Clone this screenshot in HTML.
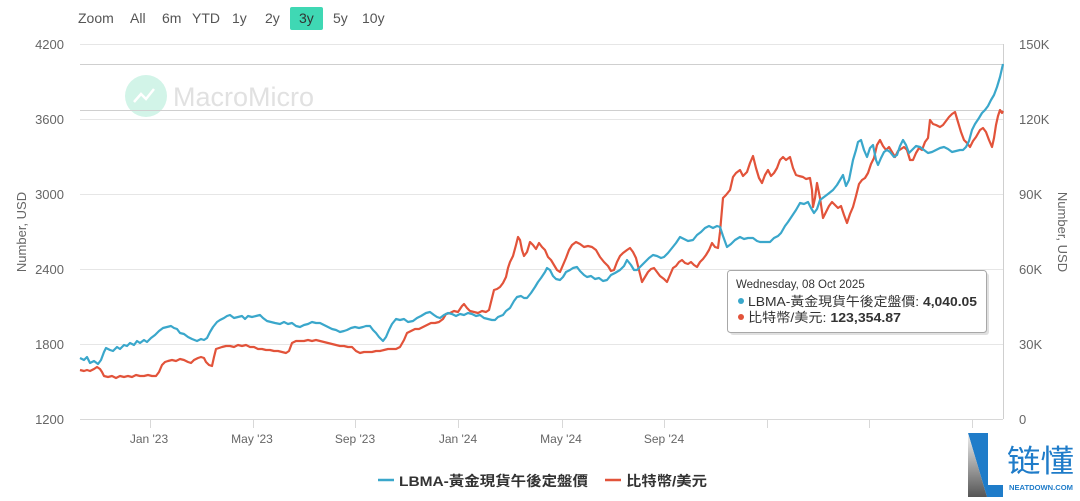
<!DOCTYPE html>
<html><head><meta charset="utf-8"><style>
html,body{margin:0;padding:0;background:#fff;}
svg{display:block;font-family:"Liberation Sans","Noto Sans CJK TC",sans-serif;}
</style></head><body>
<svg width="1080" height="501" viewBox="0 0 1080 501" xmlns="http://www.w3.org/2000/svg">
<rect width="1080" height="501" fill="#fff"/>
<!-- zoom bar -->
<g font-size="14" fill="#555">
<text x="78" y="23">Zoom</text>
<text x="130" y="23">All</text>
<text x="162" y="23">6m</text>
<text x="192" y="23">YTD</text>
<text x="232" y="23">1y</text>
<text x="265" y="23">2y</text>
<rect x="290" y="7" width="33" height="23" rx="2" fill="#3fd8b4"/>
<text x="299" y="23" fill="#333">3y</text>
<text x="333" y="23">5y</text>
<text x="362" y="23">10y</text>
</g>
<!-- watermark -->
<circle cx="146" cy="96" r="21" fill="#d2f4e8"/>
<polyline points="134,102 141,94 146,99 154,89" fill="none" stroke="#fff" stroke-width="2.5"/>
<text x="173" y="106" font-size="27" fill="#e1e1e1">MacroMicro</text>
<!-- grid -->
<g stroke="#e6e6e6" stroke-width="1">
<line x1="80" y1="44.5" x2="1003" y2="44.5"/>
<line x1="80" y1="119.5" x2="1003" y2="119.5"/>
<line x1="80" y1="194.5" x2="1003" y2="194.5"/>
<line x1="80" y1="269.5" x2="1003" y2="269.5"/>
<line x1="80" y1="344.5" x2="1003" y2="344.5"/>
</g>
<line x1="80" y1="419.5" x2="1003" y2="419.5" stroke="#d8d8d8"/>
<!-- crosshairs -->
<g stroke="#cfcfcf" stroke-width="1">
<line x1="80" y1="64.5" x2="1003" y2="64.5"/>
<line x1="80" y1="110.5" x2="1003" y2="110.5"/>
<line x1="1003.5" y1="44" x2="1003.5" y2="419"/>
</g>
<!-- x ticks -->
<g stroke="#d8d8d8">
<line x1="150.5" y1="419" x2="150.5" y2="428"/>
<line x1="253.5" y1="419" x2="253.5" y2="428"/>
<line x1="355.5" y1="419" x2="355.5" y2="428"/>
<line x1="458.5" y1="419" x2="458.5" y2="428"/>
<line x1="562.5" y1="419" x2="562.5" y2="428"/>
<line x1="664.5" y1="419" x2="664.5" y2="428"/>
<line x1="767.5" y1="419" x2="767.5" y2="428"/>
<line x1="869.5" y1="419" x2="869.5" y2="428"/>
<line x1="972.5" y1="419" x2="972.5" y2="428"/>
</g>
<g font-size="12" fill="#666" text-anchor="middle">
<text x="149" y="443">Jan '23</text>
<text x="252" y="443">May '23</text>
<text x="355" y="443">Sep '23</text>
<text x="458" y="443">Jan '24</text>
<text x="561" y="443">May '24</text>
<text x="664" y="443">Sep '24</text>
</g>
<!-- left axis -->
<g font-size="13" fill="#666" text-anchor="end">
<text x="64" y="49">4200</text>
<text x="64" y="124">3600</text>
<text x="64" y="199">3000</text>
<text x="64" y="274">2400</text>
<text x="64" y="349">1800</text>
<text x="64" y="424">1200</text>
</g>
<text transform="translate(26,232) rotate(-90)" font-size="13" fill="#666" text-anchor="middle">Number, USD</text>
<!-- right axis -->
<g font-size="13" fill="#666">
<text x="1019" y="49">150K</text>
<text x="1019" y="124">120K</text>
<text x="1019" y="199">90K</text>
<text x="1019" y="274">60K</text>
<text x="1019" y="349">30K</text>
<text x="1019" y="424">0</text>
</g>
<text transform="translate(1058,232) rotate(90)" font-size="13" fill="#666" text-anchor="middle">Number, USD</text>
<!-- series: BTC -->
<polyline fill="none" stroke="#e2533a" stroke-width="2.2" stroke-linejoin="round" points="80,370 84,371 87,370 90,371 94,369 97,367 100,369 102,372 104,376 108,377 112,376 116,378 120,376 124,377 128,376 132,377 136,375 140,376 144,376 148,375 152,376 156,376 159,372 162,365 165,362 168,361 172,360 176,361 180,359 184,360 188,362 191,363 194,360 198,358 201,357 204,358 206,362 209,365 212,366 214,357 216,349 219,348 222,347 226,346 230,346 234,347 238,345 242,346 246,345 250,347 254,347 258,349 262,349 266,350 270,350 274,351 278,351 282,352 286,353 289,351 292,343 296,341 300,341 304,341 308,340 312,341 316,340 320,341 324,342 328,343 332,344 336,345 340,346 344,346 348,347 352,347 356,351 360,353 364,352 368,352 372,352 376,351 380,351 384,350 388,349 392,349 396,349 400,347 404,340 407,333 411,331 415,329 419,329 423,327 427,325 431,323 435,323 439,322 443,319 446,314 450,313 454,311 458,312 462,306 464,304 467,308 470,311 474,312 478,313 482,311 486,312 489,310 491,302 494,290 497,289 500,287 503,283 506,277 508,268 510,262 513,256 516,245 518,237 520,240 522,250 524,256 527,252 530,242 533,245 536,249 539,243 542,247 545,250 548,257 551,260 554,265 557,270 560,272 563,265 566,258 569,250 572,245 576,242 580,244 584,247 588,246 592,247 596,250 600,257 604,262 608,266 611,271 614,270 617,262 620,256 623,253 627,250 630,248 633,252 636,258 639,270 642,282 645,277 648,272 651,269 654,268 657,272 660,276 664,279 667,282 670,275 673,268 676,266 679,262 682,260 685,263 688,264 691,262 694,265 697,267 700,262 703,259 706,255 709,250 712,243 715,247 718,248 720,232 723,198 726,195 730,190 733,177 736,173 740,170 743,176 747,172 750,163 753,156 756,168 759,178 762,183 765,175 768,170 771,176 774,173 777,168 780,160 783,157 786,160 790,157 793,168 796,175 799,176 803,177 806,179 810,178 812,190 813,207 815,198 817,183 820,198 823,218 826,212 829,206 832,202 835,205 838,208 841,206 844,215 847,223 850,214 853,207 856,196 859,184 862,180 865,178 868,173 871,164 874,158 877,145 880,140 883,146 886,150 889,147 892,152 895,157 898,151 901,149 904,147 907,150 910,160 913,160 916,153 919,148 922,150 925,142 928,138 930,120 933,124 936,125 940,127 943,125 946,121 949,117 952,114 955,112 958,122 961,132 964,140 967,143 970,147 973,141 976,137 980,130 983,128 986,132 989,140 992,147 994,138 996,125 998,116 1000,110 1002,113 1003,111"/>
<!-- series: Gold -->
<polyline fill="none" stroke="#3aa7cb" stroke-width="2.2" stroke-linejoin="round" points="80,358 84,360 87,357 90,363 94,361 98,364 101,360 104,352 106,348 110,350 113,351 117,347 120,349 124,345 127,346 130,343 134,345 137,341 140,343 144,340 147,342 151,338 155,335 159,331 163,328 167,327 171,326 174,328 177,329 180,333 184,334 188,337 192,339 197,341 201,339 204,340 207,338 210,332 213,327 217,322 220,320 224,318 227,316 230,315 234,318 238,317 242,316 245,319 248,316 252,317 256,316 260,315 263,318 267,321 271,322 275,323 280,324 284,322 288,324 292,323 296,326 300,327 304,325 308,324 312,322 316,323 320,323 324,325 328,327 332,329 336,330 340,332 344,331 347,330 351,328 355,327 359,328 363,327 366,326 370,326 373,330 376,333 379,337 383,341 386,337 389,330 392,324 396,319 400,320 404,319 408,322 413,321 417,318 421,316 426,313 430,312 434,315 437,317 440,318 444,315 448,313 452,314 456,316 460,314 464,315 468,313 472,314 476,316 480,315 484,318 488,319 492,320 495,320 498,317 503,315 506,311 510,308 514,301 517,297 521,296 524,298 527,298 531,293 535,287 538,282 541,278 545,272 547,268 550,270 553,276 556,279 560,280 563,277 566,272 570,270 573,268 577,267 580,271 584,275 587,277 591,276 595,279 599,278 603,281 607,280 611,275 615,273 620,270 624,266 627,260 631,265 634,270 637,270 641,266 645,262 649,258 653,255 657,256 661,258 664,257 668,253 672,248 676,243 680,237 684,239 688,241 693,240 697,235 701,232 705,228 709,226 713,228 717,226 720,227 723,236 727,247 731,244 735,240 740,237 744,239 748,238 753,238 757,241 760,242 765,242 770,242 774,238 778,236 781,233 785,226 788,222 792,216 796,210 800,203 804,204 808,202 811,208 814,213 817,209 820,200 824,197 828,194 833,190 837,185 840,180 843,175 846,186 849,180 853,160 856,150 858,142 861,140 864,150 867,157 870,148 873,145 876,160 878,165 881,158 884,152 887,150 890,152 894,157 897,155 900,146 903,140 906,145 909,153 912,150 916,146 920,147 924,150 928,153 932,152 936,150 940,148 944,147 948,149 952,152 956,151 960,150 963,150 966,147 969,141 972,130 975,124 979,118 982,113 985,110 988,106 991,100 994,95 997,87 1000,77 1003,64"/>
<!-- tooltip -->
<rect x="730" y="273" width="259" height="62" rx="3" fill="#000" opacity="0.12"/>
<rect x="727.5" y="270.5" width="259" height="62" rx="3" fill="#fff" stroke="#a8a8a8"/>
<text x="736" y="288" font-size="11.5" fill="#333">Wednesday, 08 Oct 2025</text>
<circle cx="741" cy="301" r="3" fill="#3aa7cb"/>
<text x="748" y="306" font-size="13" fill="#333" textLength="229" lengthAdjust="spacingAndGlyphs">LBMA-黃金現貨午後定盤價: <tspan font-weight="bold">4,040.05</tspan></text>
<circle cx="741" cy="317" r="3" fill="#e2533a"/>
<text x="748" y="322" font-size="13" fill="#333" textLength="153" lengthAdjust="spacingAndGlyphs">比特幣/美元: <tspan font-weight="bold">123,354.87</tspan></text>
<!-- legend -->
<line x1="378" y1="480" x2="394" y2="480" stroke="#3aa7cb" stroke-width="2.5"/>
<text x="399" y="486" font-size="14" font-weight="bold" fill="#333" textLength="189" lengthAdjust="spacingAndGlyphs">LBMA-黃金現貨午後定盤價</text>
<line x1="605" y1="480" x2="621" y2="480" stroke="#e2533a" stroke-width="2.5"/>
<text x="626" y="486" font-size="14" font-weight="bold" fill="#333" textLength="81" lengthAdjust="spacingAndGlyphs">比特幣/美元</text>
<!-- logo -->
<defs><linearGradient id="lg" x1="0" y1="0" x2="0" y2="1"><stop offset="0" stop-color="#f0f0f0"/><stop offset="1" stop-color="#555"/></linearGradient></defs>
<polygon points="968,433 988,433 988,485 1003,485 1003,497 987,497" fill="#1f7cc9"/>
<polygon points="968,433 987,497 968,497" fill="url(#lg)"/>
<text x="1007" y="472" font-size="31" fill="#1f7cc9" font-family="'Noto Sans CJK SC',sans-serif" textLength="67" lengthAdjust="spacingAndGlyphs">链懂</text>
<text x="1009" y="490" font-size="7.5" fill="#1f7cc9" font-weight="bold" textLength="64" lengthAdjust="spacingAndGlyphs">NEATDOWN.COM</text>
</svg>
</body></html>
